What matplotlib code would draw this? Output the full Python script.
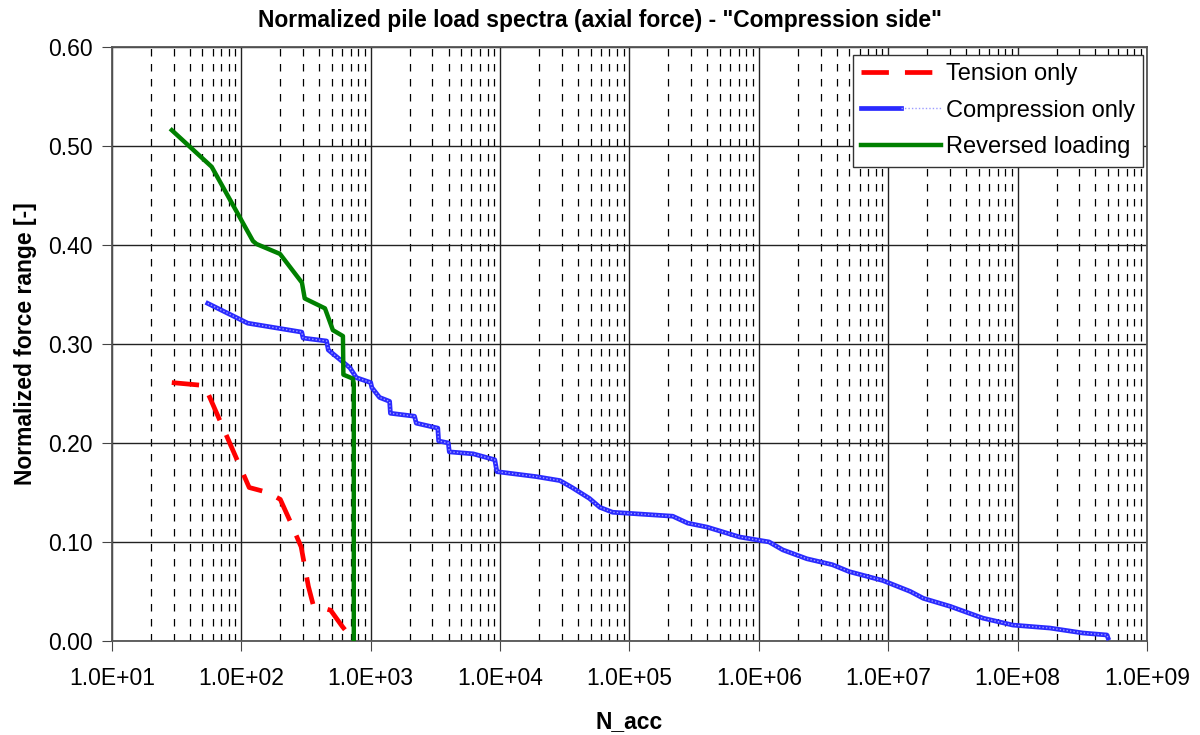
import matplotlib
matplotlib.use("Agg")
from matplotlib import pyplot as plt
from matplotlib.ticker import FixedLocator, FuncFormatter, NullFormatter
from matplotlib.legend_handler import HandlerTuple

plt.rcParams['font.family'] = ['Liberation Sans', 'DejaVu Sans']

# Tension only
n_tension = [29, 52, 115, 160, 200, 240, 290, 330, 360, 490, 600, 740]
f_tension = [0.261, 0.258, 0.155, 0.150, 0.143, 0.120, 0.095, 0.055, 0.036, 0.031, 0.015, 0.0]

# Compression only (staircase)
n_comp = [55, 112, 293, 300, 456, 470, 690, 775, 1000, 1020, 1170, 1400, 1420,
          2180, 2250, 3300, 3350, 3980, 4050, 6200, 9100, 9450, 19000, 29000,
          36000, 49000, 59000, 74000, 216000, 282000, 398000, 710000, 1.2e6,
          1.53e6, 2.35e6, 3.7e6, 5.0e6, 9.1e6, 1.48e7, 1.87e7, 3.0e7, 5.4e7,
          9.2e7, 1.78e8, 3.2e8, 4.9e8, 5.0e8]
f_comp = [0.341, 0.321, 0.312, 0.306, 0.303, 0.294, 0.276, 0.266, 0.261, 0.256,
          0.246, 0.242, 0.230, 0.227, 0.220, 0.215, 0.202, 0.200, 0.191, 0.189,
          0.183, 0.171, 0.166, 0.162, 0.155, 0.144, 0.135, 0.130, 0.126, 0.119,
          0.115, 0.105, 0.100, 0.092, 0.083, 0.077, 0.070, 0.061, 0.050, 0.043,
          0.035, 0.023, 0.016, 0.013, 0.008, 0.006, 0.003]

# Reversed loading
n_rev = [29, 59, 123, 131, 199, 294, 309, 443, 510, 610, 615, 728, 740, 740]
f_rev = [0.516, 0.479, 0.404, 0.401, 0.391, 0.362, 0.346, 0.336, 0.314, 0.308,
         0.269, 0.265, 0.26, 0.0]

y_ticks = [0.0, 0.1, 0.2, 0.3, 0.4, 0.5, 0.6]
x_decades = [1e1, 1e2, 1e3, 1e4, 1e5, 1e6, 1e7, 1e8, 1e9]

fig = plt.figure(figsize=(12, 7.35), dpi=100)
ax = fig.add_axes([0.0933, 0.128, 0.8625, 0.808])

ax.set_xscale('log')
ax.set_xlim(1e1, 1e9)
ax.set_ylim(0, 0.6)

# grid
minor = [m * d for d in x_decades[:-1] for m in range(2, 10)]
ax.xaxis.set_major_locator(FixedLocator(x_decades))
ax.xaxis.set_minor_locator(FixedLocator(minor))
ax.xaxis.set_minor_formatter(NullFormatter())
ax.set_yticks(y_ticks)
ax.grid(which='major', axis='both', color='#222222', linewidth=1.0)
ax.grid(which='minor', axis='x', color='black', linewidth=0.9, linestyle=(0, (6, 6)))
ax.set_axisbelow(True)

l_t, = ax.plot(n_tension, f_tension, color='#ff0000', linewidth=3.4,
               linestyle=(0, (5.8, 3.4)), solid_capstyle='butt', zorder=4)
l_c1, = ax.plot(n_comp, f_comp, color='#2a2aff', linewidth=3.4, zorder=3)
l_c2, = ax.plot(n_comp, f_comp, color='#9c9cff', linewidth=1.0,
                linestyle=(0, (1, 1.5)), zorder=3)
l_r, = ax.plot(n_rev, f_rev, color='#008000', linewidth=3.2, zorder=5)

ax.xaxis.set_major_formatter(FuncFormatter(lambda v, p: '%.1E' % v))
ax.yaxis.set_major_formatter(FuncFormatter(lambda v, p: '%.2f' % v))
ax.tick_params(axis='both', which='major', labelsize=16.5, direction='out',
               length=7, color='#444444')
ax.tick_params(axis='x', which='major', pad=12)
ax.tick_params(axis='x', which='minor', length=0)
ax.tick_params(axis='y', pad=7)

for s in ax.spines.values():
    s.set_color('#555555')
    s.set_linewidth(1.3)

fig.text(0.5, 1 - 20 / 735,
         'Normalized pile load spectra (axial force) - "Compression side"',
         fontsize=16.5, fontweight='bold', ha='center', va='center')
ax.set_xlabel('N_acc', fontsize=16.5, fontweight='bold', labelpad=14)
ax.set_ylabel('Normalized force range [-]', fontsize=16.5, fontweight='bold', labelpad=8)

leg = ax.legend([l_t, (l_c1, l_c2), l_r],
                ['Tension only', 'Compression only', 'Reversed loading'],
                handler_map={tuple: HandlerTuple(ndivide=None, pad=0)},
                loc='upper right', bbox_to_anchor=(0.9965, 0.987),
                fontsize=17, frameon=True, fancybox=False, framealpha=1,
                edgecolor='#333333', borderpad=0.35, handlelength=3.4,
                handletextpad=0.2, labelspacing=0.62, borderaxespad=0)
leg.get_frame().set_linewidth(1.0)

fig.savefig('out.png', dpi=100)
